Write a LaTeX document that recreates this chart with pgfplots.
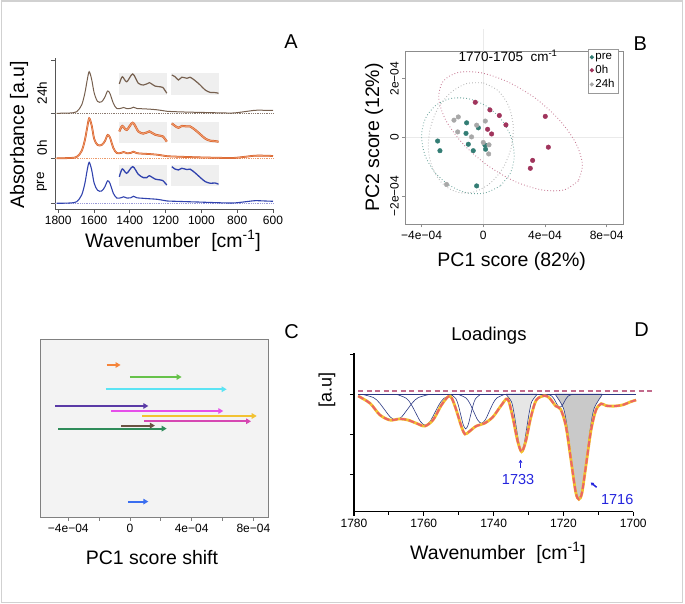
\documentclass[border=0pt]{standalone}
\usepackage{fontspec}
\setmainfont{Liberation Sans}
\usepackage{pgfplots}
\pgfplotsset{compat=1.18}
\usepackage{pgfplotstable}
\usetikzlibrary{arrows.meta}

\definecolor{axgray}{HTML}{555555}
\definecolor{cpre}{HTML}{3143AE}
\definecolor{cpredot}{HTML}{9A9AD8}
\definecolor{czero}{HTML}{D4561E}
\definecolor{czerolt}{HTML}{EE9A6C}
\definecolor{czerodot}{HTML}{EC9A6A}
\definecolor{ctf}{HTML}{76604F}
\definecolor{ctfdot}{HTML}{8A7A70}
\definecolor{insetbg}{HTML}{EFEFEF}
\definecolor{pcteal}{HTML}{337D74}
\definecolor{pcmaroon}{HTML}{A0345C}
\definecolor{pcgray}{HTML}{A8A8A8}
\definecolor{elteal}{HTML}{6FA69E}
\definecolor{elmaroon}{HTML}{C77A94}
\definecolor{elgray}{HTML}{B4B4B4}
\definecolor{gridgray}{HTML}{EAEAEA}
\definecolor{panelbg}{HTML}{F3F3F3}
\definecolor{aorange}{HTML}{F5843A}
\definecolor{agreen}{HTML}{66C24A}
\definecolor{acyan}{HTML}{5BE4F4}
\definecolor{apurple}{HTML}{5A3AA6}
\definecolor{amagenta}{HTML}{E64FEA}
\definecolor{agold}{HTML}{F2C232}
\definecolor{apink}{HTML}{D647B2}
\definecolor{abrown}{HTML}{6A5242}
\definecolor{adgreen}{HTML}{2F8C5A}
\definecolor{ablue}{HTML}{3A6EF0}
\definecolor{navy}{HTML}{2B3883}
\definecolor{fillA}{HTML}{E6E6E6}
\definecolor{fillB}{HTML}{C9C9C9}
\definecolor{fityel}{HTML}{F2C12E}
\definecolor{fitred}{HTML}{EC6464}
\definecolor{zeromar}{HTML}{C26A8C}
\definecolor{annblue}{HTML}{2424DD}

\newcommand\fbig{\fontsize{19.5}{23}\selectfont}
\newcommand\fletter{\fontsize{20}{24}\selectfont}
\newcommand\fmid{\fontsize{13.5}{16}\selectfont}
\newcommand\ftick{\fontsize{12}{14}\selectfont}
\newcommand\flegend{\fontsize{11.5}{13}\selectfont}
\newcommand\fload{\fontsize{18.5}{22}\selectfont}
\newcommand\fannot{\fontsize{14.5}{17}\selectfont}

\pgfplotsset{/pgf/number format/assume math mode=true}

% panel A: spectra (wavenumber, absolute offset y per group)
\pgfplotstableread{
wn   pre   oh    tf
1809 5.7   50.7  95.7
1734 6.0   51.0  96.0
1697 7.3   52.0  97.3
1669 14.0  58.0  104.0
1651 25.7  69.0  116.0
1638 39.0  81.5  129.0
1627 46.7  90.7  137.3
1613 39.0  83.5  129.5
1599 25.7  70.0  116.0
1580 18.7  64.0  107.5
1557 18.0  64.0  107.3
1539 22.3  68.0  112.0
1524 28.2  74.0  118.0
1511 25.7  71.5  115.5
1492 15.7  61.0  105.7
1473 11.0  56.0  100.5
1450 11.2  56.0  100.7
1435 12.2  57.0  101.5
1415 10.9  55.7  100.3
1395 11.2  56.0  100.6
1380 12.7  57.3  101.8
1360 11.2  55.8  100.5
1326 10.7  55.3  100.2
1287 10.2  54.9  99.8
1248 9.7   54.3  99.2
1214 8.7   53.4  98.3
1192 8.0   52.8  97.7
1147 7.7   52.4  97.3
1080 7.3   52.0  96.9
1007 6.9   51.6  96.6
912  6.3   51.2  96.2
823  6.0   51.0  96.0
756  7.2   52.2  97.4
700  8.3   53.3  98.7
644  8.0   53.3  98.7
600  7.7   53.0  98.5
}\specA

% zoomed insets: u = position across the box, v = height within the box
\pgfplotstableread{
u     v24  vo   vpre
0.000 0.51 0.55 0.43
0.063 0.84 0.80 0.81
0.156 0.61 0.62 0.60
0.283 0.97 0.95 0.92
0.400 0.54 0.55 0.55
0.506 0.46 0.45 0.39
0.578 0.51 0.50 0.39
0.633 0.57 0.55 0.48
0.753 0.41 0.40 0.32
0.859 0.38 0.35 0.28
0.916 0.35 0.32 0.25
1.000 0.08 0.08 0.03
}\insA

\pgfplotstableread{
u     v24  vo   vpre
0.015 0.92 0.92 0.92
0.085 0.84 0.80 0.80
0.154 0.69 0.72 0.76
0.226 0.82 0.80 0.84
0.332 0.77 0.78 0.78
0.400 0.82 0.78 0.80
0.507 0.66 0.62 0.62
0.613 0.46 0.42 0.40
0.719 0.23 0.22 0.20
0.825 0.12 0.12 0.12
0.930 0.11 0.10 0.13
1.000 0.08 0.07 0.07
}\insB

\begin{document}
\begin{tikzpicture}[x=1pt,y=1pt]
\useasboundingbox (0,0) rectangle (685,604);
\draw[black!18, line width=1.4pt] (1.5,1.7) rectangle (682.7,603);

%%%%%%%%%%%%%%%% A
\begin{axis}[at={(55pt,395pt)}, anchor=south west, scale only axis,
  width=218pt, height=151pt,
  xmin=600, xmax=1818, x dir=reverse, ymin=0, ymax=151,
  axis x line*=bottom, axis y line*=left,
  axis line style={draw=axgray, line width=0.9pt},
  tick style={draw=axgray, line width=0.9pt}, tick align=outside,
  major tick length=4pt,
  xtick={600,800,...,1800}, ytick={6,51,96,149}, yticklabels={},
  xticklabel style={font=\ftick},
  /pgf/number format/1000 sep={}, clip=false]
  \addplot[ctfdot, densely dotted, line width=0.8pt] coordinates {(1818,95.7) (600,95.7)};
  \addplot[czerodot, densely dotted, line width=0.8pt] coordinates {(1818,50.7) (600,50.7)};
  \addplot[cpredot, densely dotted, line width=0.8pt] coordinates {(1818,5.7) (600,5.7)};
  % inset boxes
  \addplot[fill=insetbg, draw=none] coordinates {(1458.6,114) (1193.3,114) (1193.3,135.7) (1458.6,135.7)} -- cycle;
  \addplot[fill=insetbg, draw=none] coordinates {(1169.2,114) (904.5,114) (904.5,135.7) (1169.2,135.7)} -- cycle;
  \addplot[fill=insetbg, draw=none] coordinates {(1458.6,65.7) (1193.3,65.7) (1193.3,87.3) (1458.6,87.3)} -- cycle;
  \addplot[fill=insetbg, draw=none] coordinates {(1169.2,65.7) (904.5,65.7) (904.5,87.3) (1169.2,87.3)} -- cycle;
  \addplot[fill=insetbg, draw=none] coordinates {(1458.6,23.3) (1193.3,23.3) (1193.3,44) (1458.6,44)} -- cycle;
  \addplot[fill=insetbg, draw=none] coordinates {(1169.2,23.3) (904.5,23.3) (904.5,44) (1169.2,44)} -- cycle;
  % spectra
  \addplot[ctf, line width=1pt, smooth] table[x=wn, y=tf] {\specA};
  \addplot[czero, line width=0.5pt, double=czerolt, double distance=0.8pt, smooth] table[x=wn, y=oh] {\specA};
  \addplot[cpre, line width=1.1pt, smooth] table[x=wn, y=pre] {\specA};
  % insets
  \addplot[ctf, line width=1.2pt, smooth] table[x expr={1458.6-265.3*\thisrow{u}}, y expr={114+21.7*\thisrow{v24}}] {\insA};
  \addplot[ctf, line width=1.2pt, smooth] table[x expr={1169.2-264.7*\thisrow{u}}, y expr={114+21.7*\thisrow{v24}}] {\insB};
  \addplot[czero, line width=0.5pt, double=czerolt, double distance=1.1pt, smooth] table[x expr={1458.6-265.3*\thisrow{u}}, y expr={65.7+21.6*\thisrow{vo}}] {\insA};
  \addplot[czero, line width=0.5pt, double=czerolt, double distance=1.1pt, smooth] table[x expr={1169.2-264.7*\thisrow{u}}, y expr={65.7+21.6*\thisrow{vo}}] {\insB};
  \addplot[cpre, line width=1.3pt, smooth] table[x expr={1458.6-265.3*\thisrow{u}}, y expr={23.3+20.7*\thisrow{vpre}}] {\insA};
  \addplot[cpre, line width=1.3pt, smooth] table[x expr={1169.2-264.7*\thisrow{u}}, y expr={23.3+20.7*\thisrow{vpre}}] {\insB};
\end{axis}
\node[rotate=90, font=\fbig] at (19,469) {Absorbance [a.u]};
\node[rotate=90, font=\fmid] at (42,511) {24h};
\node[rotate=90, font=\fmid] at (42,456) {0h};
\node[rotate=90, font=\fmid] at (42,422) {pre};
\node[font=\fbig] at (173,363) {Wavenumber\ \ [cm\textsuperscript{-1}]};
\node[font=\fletter] at (291,562) {A};

%%%%%%%%%%%%%%%% B
\begin{axis}[at={(405.7pt,380pt)}, anchor=south west, scale only axis,
  width=217.3pt, height=173pt,
  xmin=-5.03, xmax=9.06, ymin=-2.947, ymax=2.947,
  axis line style={draw=black!45, line width=0.8pt},
  tick style={draw=black!45, line width=0.8pt}, tick align=outside,
  major tick length=3.5pt, xtick pos=bottom, ytick pos=left,
  xtick={-4,0,4,8}, xticklabels={−4e−04,0,4e−04,8e−04},
  ytick={-2,0,2}, yticklabels={−2e−04,0,2e−04},
  xticklabel style={font=\ftick},
  yticklabel style={font=\ftick, rotate=90, anchor=south},
  clip=false,
  legend style={at={(0.982,1.012)}, anchor=north east, font=\flegend,
    draw=black!40, line width=0.9pt, inner xsep=2pt, inner ysep=2pt,
    row sep=0.3pt, cells={anchor=west}},
  legend image code/.code={\draw[#1, mark size=1.6pt] plot coordinates {(3pt,0pt)};}]
  \addplot[gridgray, line width=0.6pt, forget plot] coordinates {(-5.03,0) (9.06,0)};
  \addplot[gridgray, line width=0.6pt, forget plot] coordinates {(0,-2.947) (0,3.7)};
  \addplot[only marks, mark=*, mark size=2.3pt, mark options={draw=pcteal, fill=pcteal}] coordinates {
    (-1.08,0.50) (-0.32,0.33) (-1.12,0.14) (-2.96,-0.12) (-2.81,-0.45)
    (-0.97,-0.23) (-0.65,-0.45) (0.11,-0.26) (0.15,-0.40) (-0.43,-1.65)};
  \addlegendentry{pre}
  \addplot[only marks, mark=*, mark size=2.3pt, mark options={draw=pcmaroon, fill=pcmaroon}] coordinates {
    (-0.52,1.20) (0.43,0.94) (1.04,0.75) (1.47,0.43) (0.28,0.28)
    (0.54,0.12) (4.02,0.72) (4.22,-0.33) (3.20,-0.78) (3.05,-1.05)};
  \addlegendentry{0h}
  \addplot[only marks, mark=*, mark size=2.3pt, mark options={draw=pcgray, fill=pcgray}] coordinates {
    (-1.90,0.59) (-1.62,0.70) (-1.66,0.19) (-0.76,0.02) (-0.43,0.42)
    (0.13,0.56) (0.00,-0.17) (0.37,-0.25) (0.35,-0.56) (-2.38,-1.60)};
  \addlegendentry{24h}
  % confidence ellipses
  \addplot[elmaroon, line width=0.9pt, dash pattern=on 0.8pt off 2.2pt, smooth, forget plot] coordinates {
    (6.16,-1.48) (5.21,-1.79) (3.74,-1.78) (1.98,-1.48) (0.17,-0.91) (-1.38,-0.18)
    (-2.45,0.61) (-2.89,1.34) (-2.61,1.91) (-1.66,2.21) (-0.19,2.21) (1.57,1.90)
    (3.37,1.34) (4.93,0.60) (6.00,-0.19) (6.43,-0.92) (6.16,-1.48)};
  \addplot[elteal, line width=0.9pt, dash pattern=on 0.8pt off 2.2pt, smooth, forget plot] coordinates {
    (1.10,-1.65) (0.11,-1.89) (-1.04,-1.89) (-2.19,-1.63) (-3.15,-1.18) (-3.79,-0.59)
    (-4.00,0.05) (-3.76,0.64) (-3.09,1.09) (-2.10,1.33) (-0.95,1.32) (0.20,1.07)
    (1.16,0.62) (1.80,0.02) (2.01,-0.61) (1.77,-1.20) (1.10,-1.65)};
  \addplot[elgray, line width=0.9pt, dash pattern=on 0.8pt off 2.2pt, smooth, forget plot] coordinates {
    (0.01,1.86) (0.95,1.60) (1.63,1.09) (1.94,0.42) (1.82,-0.32) (1.31,-1.01)
    (0.47,-1.55) (-0.56,-1.85) (-1.63,-1.87) (-2.57,-1.61) (-3.25,-1.10) (-3.56,-0.43)
    (-3.44,0.31) (-2.93,1.00) (-2.09,1.54) (-1.06,1.84) (0.01,1.86)};
\end{axis}
\node[font=\fmid] at (508,548.3) {1770-1705\ \ cm\textsuperscript{-1}};
\node[font=\fbig] at (511.7,343) {PC1 score (82\%)};
\node[rotate=90, font=\fbig] at (374,466.5) {PC2 score (12\%)};
\node[font=\fletter] at (640.3,560.7) {B};

%%%%%%%%%%%%%%%% C
\begin{axis}[at={(40.7pt,86.7pt)}, anchor=south west, scale only axis,
  width=227.6pt, height=178.3pt,
  xmin=-5.79, xmax=8.97, ymin=0, ymax=178.3,
  axis background/.style={fill=panelbg},
  axis line style={draw=black!50, line width=0.8pt},
  tick style={draw=black!50, line width=0.8pt}, tick align=outside,
  major tick length=3.5pt, xtick pos=bottom, ytick=\empty,
  xtick={-4,-2,...,8}, xticklabels={−4e−04,,0,,4e−04,,8e−04},
  xticklabel style={font=\ftick}]
  \addplot[aorange, line width=2pt, -{Triangle[length=5pt,width=5.5pt]}] coordinates {(-1.51,152.3) (-0.61,152.3)};
  \addplot[agreen, line width=2pt, -{Triangle[length=5pt,width=5.5pt]}] coordinates {(0,140.3) (3.35,140.3)};
  \addplot[acyan, line width=2pt, -{Triangle[length=5pt,width=5.5pt]}] coordinates {(-1.56,128) (6.27,128)};
  \addplot[apurple, line width=2pt, -{Triangle[length=5pt,width=5.5pt]}] coordinates {(-4.84,111.3) (1.19,111.3)};
  \addplot[amagenta, line width=2pt, -{Triangle[length=5pt,width=5.5pt]}] coordinates {(-1.21,106.3) (6.05,106.3)};
  \addplot[agold, line width=2pt, -{Triangle[length=5pt,width=5.5pt]}] coordinates {(0.80,101.3) (8.22,101.3)};
  \addplot[apink, line width=2pt, -{Triangle[length=5pt,width=5.5pt]}] coordinates {(0.91,96) (7.85,96)};
  \addplot[adgreen, line width=2pt, -{Triangle[length=5pt,width=5.5pt]}] coordinates {(-4.65,88.7) (2.38,88.7)};
  \addplot[abrown, line width=2pt, -{Triangle[length=5pt,width=5.5pt]}] coordinates {(-0.58,91.7) (1.62,91.7)};
  \addplot[ablue, line width=2pt, -{Triangle[length=5pt,width=5.5pt]}] coordinates {(-0.13,15.7) (1.19,15.7)};
\end{axis}
\node[font=\fbig] at (152,46) {PC1 score shift};
\node[font=\fletter] at (291.7,272.3) {C};

%%%%%%%%%%%%%%%% D
\begin{axis}[at={(354pt,92.3pt)}, anchor=south west, scale only axis,
  width=279.3pt, height=158.4pt,
  xmin=1700, xmax=1780, x dir=reverse, ymin=-2.94, ymax=1.02,
  axis x line*=bottom, axis y line*=left,
  axis line style={black, line width=1.6pt},
  tick style={black, line width=1.1pt}, tick align=outside,
  major tick length=4pt, minor tick length=3pt,
  xtick={1700,1720,...,1780}, minor xtick={1710,1730,1750,1770},
  ytick={-2,-1,0,1}, yticklabels={},
  xticklabel style={font=\ftick},
  /pgf/number format/1000 sep={}, clip=false]
  % shaded bands
  \addplot[fill=fillA, draw=navy, line width=0.6pt, smooth] coordinates {
    (1736.35,-0.016) (1734.9,-0.192) (1734.2,-0.461) (1733.45,-0.862) (1732.7,-1.253) (1732,-1.42)
    (1731.3,-1.253) (1730.55,-0.862) (1729.8,-0.461) (1729.1,-0.192) (1727.65,-0.016)} \closedcycle;
  \addplot[fill=fillB, draw=navy, line width=0.6pt, smooth] coordinates {
    (1722.2,-0.029) (1720.0,-0.354) (1718.9,-0.851) (1717.8,-1.59) (1716.7,-2.311) (1715.6,-2.62)
    (1714.5,-2.311) (1713.4,-1.59) (1712.3,-0.851) (1711.2,-0.354) (1709.0,-0.029)} \closedcycle;
  % component bands
  \addplot[navy, line width=0.6pt, smooth] coordinates {
    (1777.6,-0.007) (1774.4,-0.088) (1772.8,-0.211) (1771.2,-0.394) (1769.6,-0.573) (1768,-0.65)
    (1766.4,-0.573) (1764.8,-0.394) (1763.2,-0.211) (1761.6,-0.088) (1758.4,-0.007)};
  \addplot[navy, line width=0.6pt, smooth] coordinates {
    (1767.7,-0.009) (1765.0,-0.105) (1763.65,-0.253) (1762.3,-0.473) (1760.95,-0.688) (1759.6,-0.78)
    (1758.25,-0.688) (1756.9,-0.473) (1755.55,-0.253) (1754.2,-0.105) (1751.5,-0.009)};
  \addplot[navy, line width=0.6pt, smooth] coordinates {
    (1752.2,-0.01) (1750.8,-0.117) (1750.1,-0.283) (1749.4,-0.528) (1748.7,-0.767) (1748,-0.87)
    (1747.3,-0.767) (1746.6,-0.528) (1745.9,-0.283) (1745.2,-0.117) (1743.8,-0.01)};
  \addplot[navy, line width=0.6pt, smooth] coordinates {
    (1750.1,-0.008) (1747.9,-0.099) (1746.8,-0.237) (1745.7,-0.443) (1744.6,-0.644) (1743.5,-0.73)
    (1742.4,-0.644) (1741.3,-0.443) (1740.2,-0.237) (1739.1,-0.099) (1736.9,-0.008)};
  \addplot[navy, line width=0.6pt, smooth] coordinates {
    (1724.6,-0.004) (1723.4,-0.045) (1722.8,-0.107) (1722.2,-0.2) (1721.6,-0.291) (1721,-0.33)
    (1720.4,-0.291) (1719.8,-0.2) (1719.2,-0.107) (1718.6,-0.045) (1717.4,-0.004)};
  % zero lines
  \addplot[navy, line width=1pt] coordinates {(1778.8,0) (1699.2,0)};
  \addplot[zeromar, line width=1.9pt, dash pattern=on 5pt off 3.5pt] coordinates {(1778.8,0.075) (1694,0.075)};
  % fitted loading
  \addplot[fityel, line width=2.8pt, smooth] coordinates {
    (1778.8,-0.05) (1775.4,-0.23) (1772.6,-0.52) (1769.7,-0.65) (1766.9,-0.62) (1764.5,-0.65)
    (1762.1,-0.73) (1759.7,-0.80) (1757.3,-0.64) (1755.0,-0.28) (1753.0,-0.06) (1752.0,-0.10)
    (1750.7,-0.40) (1749.2,-0.82) (1748.2,-1.00) (1746.9,-0.93) (1745.0,-0.80) (1742.6,-0.73)
    (1740.2,-0.57) (1737.8,-0.28) (1736.0,-0.12) (1734.6,-0.55) (1733.2,-1.15) (1732.0,-1.44)
    (1730.8,-1.18) (1729.4,-0.60) (1727.8,-0.15) (1725.4,-0.04) (1724.0,-0.10) (1722.2,-0.30)
    (1720.8,-0.38) (1719.3,-0.80) (1717.9,-1.62) (1716.5,-2.45) (1715.6,-2.63) (1714.7,-2.47)
    (1713.5,-1.75) (1712.1,-0.90) (1710.7,-0.40) (1709.2,-0.24) (1707.8,-0.29) (1705.4,-0.30)
    (1703.0,-0.27) (1700.7,-0.19) (1699.2,-0.15)};
  \addplot[fitred, line width=2pt, dash pattern=on 6pt off 2.5pt, smooth] coordinates {
    (1778.8,-0.05) (1775.4,-0.23) (1772.6,-0.52) (1769.7,-0.65) (1766.9,-0.62) (1764.5,-0.65)
    (1762.1,-0.73) (1759.7,-0.80) (1757.3,-0.64) (1755.0,-0.28) (1753.0,-0.06) (1752.0,-0.10)
    (1750.7,-0.40) (1749.2,-0.82) (1748.2,-1.00) (1746.9,-0.93) (1745.0,-0.80) (1742.6,-0.73)
    (1740.2,-0.57) (1737.8,-0.28) (1736.0,-0.12) (1734.6,-0.55) (1733.2,-1.15) (1732.0,-1.44)
    (1730.8,-1.18) (1729.4,-0.60) (1727.8,-0.15) (1725.4,-0.04) (1724.0,-0.10) (1722.2,-0.30)
    (1720.8,-0.38) (1719.3,-0.80) (1717.9,-1.62) (1716.5,-2.45) (1715.6,-2.63) (1714.7,-2.47)
    (1713.5,-1.75) (1712.1,-0.90) (1710.7,-0.40) (1709.2,-0.24) (1707.8,-0.29) (1705.4,-0.30)
    (1703.0,-0.27) (1700.7,-0.19) (1699.2,-0.15)};
  % annotations
  \draw[annblue, line width=1.3pt, -{Triangle[length=3pt,width=3.5pt]}] (axis cs:1732.3,-1.84) -- (axis cs:1732.3,-1.64);
  \node[annblue, font=\fannot] at (axis cs:1733,-2.14) {1733};
  \draw[annblue, line width=1.5pt, -{Triangle[length=3pt,width=3.5pt]}] (axis cs:1710.5,-2.33) -- (axis cs:1712.2,-2.21);
  \node[annblue, font=\fannot] at (axis cs:1704.6,-2.64) {1716};
\end{axis}
\node[rotate=90, font=\fontsize{18}{21}\selectfont] at (327,214) {[a.u]};
\node[font=\fload] at (489,268) {Loadings};
\node[font=\fbig] at (498,51) {Wavenumber\ \ [cm\textsuperscript{-1}]};
\node[font=\fletter] at (641.7,274) {D};
\end{tikzpicture}
\end{document}
